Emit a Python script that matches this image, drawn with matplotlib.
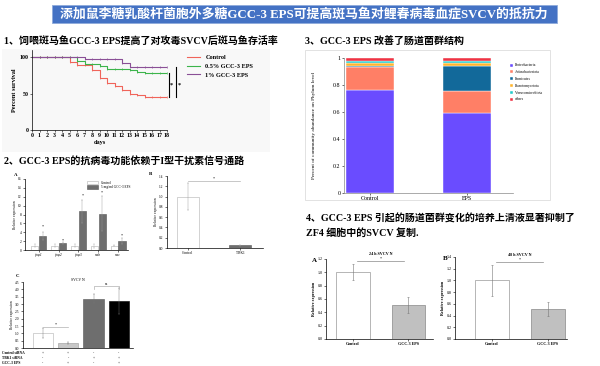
import numpy as np
import matplotlib.pyplot as plt
from matplotlib.patches import Rectangle

# ---- data ----
days = np.arange(0, 19)
surv_control = [100, 100, 100, 100, 100, 93, 90, 90, 82, 72, 65, 60, 55, 50, 48, 45, 45, 45, 46]
surv_low = [100, 100, 100, 100, 100, 100, 95, 91, 91, 88, 84, 84, 84, 82, 80, 78, 78, 78, 78]
surv_high = [100, 100, 100, 100, 100, 100, 100, 97, 97, 97, 97, 97, 92, 87, 87, 87, 87, 87, 87]
surv_labels = ["Control", "0.5% GCC-3 EPS", "1% GCC-3 EPS"]

genes = ["ifnφ1", "ifnφ2", "ifnφ3", "mxb", "mxc"]
gene_ctrl = [1.0, 1.0, 1.0, 1.0, 1.0]
gene_ctrl_err = [0.4, 0.25, 0.4, 0.45, 0.15]
gene_eps = [3.1, 1.6, 8.7, 8.2, 2.0]
gene_eps_err = [0.9, 0.3, 2.6, 4.0, 0.6]
gene_star = [5.2, 2.2, 12.3, 13.0, 3.2]

tbk_groups = ["Control", "TBK1"]
tbk_vals = [1.0, 0.05]
tbk_err = [0.27, 0.01]

sirna_vals = [1.0, 0.35, 3.35, 3.2]
sirna_err = [0.35, 0.05, 0.3, 0.9]
sirna_rows = ["Control siRNA", "TBK1 siRNA", "GCC-3 EPS"]
sirna_signs = [["+", "+", "-", "-"], ["-", "-", "+", "+"], ["-", "+", "-", "+"]]

phyla = ["Proteobacteria", "Actinobacteriota", "Firmicutes", "Planctomycetota", "Verrucomicrobiota", "others"]
phyla_groups = ["Control", "EPS"]
phyla_ctrl = [0.765, 0.165, 0.01, 0.02, 0.02, 0.02]
phyla_eps = [0.595, 0.16, 0.185, 0.025, 0.01, 0.025]

sup_groups = ["Control", "GCC-3 EPS"]
sup24 = [1.0, 0.51]
sup24_err = [0.12, 0.12]
sup48 = [1.0, 0.51]
sup48_err = [0.27, 0.12]

W, H = 600, 366
fig = plt.figure(figsize=(W / 100, H / 100), dpi=100)
plt.rcParams['font.family'] = ['Liberation Serif', 'Noto Sans CJK SC']
CJK = ['Liberation Serif', 'Noto Sans CJK SC']


def px_axes(x0, y0, x1, y1):
    return fig.add_axes([x0 / W, 1 - y1 / H, (x1 - x0) / W, (y1 - y0) / H])


def ftext(x, y, s, **kw):
    return fig.text(x / W, 1 - y / H, s, **kw)


def small_style(ax, fs=3):
    for s in ["top", "right"]:
        ax.spines[s].set_visible(False)
    for s in ["left", "bottom"]:
        ax.spines[s].set_linewidth(0.5)
    ax.tick_params(labelsize=fs, width=0.4, length=1.5, pad=1)


# ---- banner + headings ----
fig.patches.append(Rectangle((52 / W, 1 - 23 / H), 505 / W, 18 / H, transform=fig.transFigure,
                             facecolor="#4472c4", edgecolor="#8eaadb", lw=0.6))
ftext(304, 14, "添加鼠李糖乳酸杆菌胞外多糖GCC-3 EPS可提高斑马鱼对鲤春病毒血症SVCV的抵抗力",
      color="white", fontsize=9.3, fontweight="bold", ha="center", va="center", family=CJK)
ftext(4, 42, "1、饲喂斑马鱼GCC-3 EPS提高了对攻毒SVCV后斑马鱼存活率", fontsize=7.2, fontweight="bold",
      va="center", family=CJK)
ftext(4, 161, "2、GCC-3 EPS的抗病毒功能依赖于I型干扰素信号通路", fontsize=7.2, fontweight="bold",
      va="center", family=CJK)
ftext(305, 42, "3、GCC-3 EPS 改善了肠道菌群结构", fontsize=7.2, fontweight="bold", va="center", family=CJK)
ftext(306, 219, "4、GCC-3 EPS 引起的肠道菌群变化的培养上清液显著抑制了", fontsize=7.2, fontweight="bold",
      va="center", family=CJK)
ftext(306, 233, "ZF4 细胞中的SVCV 复制.", fontsize=7.2, fontweight="bold", va="center", family=CJK)

fig.patches.append(Rectangle((2 / W, 1 - 152 / H), 268 / W, 103 / H, transform=fig.transFigure,
                             facecolor="#f8f8f8", edgecolor="none", zorder=-5))
fig.patches.append(Rectangle((305 / W, 1 - 200 / H), 245 / W, 150 / H, transform=fig.transFigure,
                             facecolor="white", edgecolor="#dddddd", lw=0.6, zorder=-5))

# ---- 1: survival ----
ax1 = px_axes(32, 50, 167, 130)
ax1.patch.set_alpha(0)
cols = ["#f0645a", "#3cb44b", "#8a4f96"]
for vals, c, lab in zip([surv_control, surv_low, surv_high], cols, surv_labels):
    ax1.step(days, vals, where="post", color=c, lw=0.8, label=lab)
    ax1.plot(days[1:], vals[1:], ls="none", marker="|", ms=2, mew=0.5, color=c)
ax1.set_xlim(0, 18)
ax1.set_ylim(0, 110)
ax1.set_xticks(days)
ax1.set_yticks([0, 50, 100])
small_style(ax1, fs=4.3)
for lbl in ax1.get_xticklabels() + ax1.get_yticklabels():
    lbl.set_fontweight("bold")
ax1.set_xlabel("days", fontsize=4.5, fontweight="bold", labelpad=1)
ax1.set_ylabel("Percent survival", fontsize=4.5, fontweight="bold", labelpad=2)
ax1.plot([18.2, 18.2], [surv_low[-1], surv_control[-1]], color="black", lw=0.8, clip_on=False)
ax1.text(18.6, 62, "*", fontsize=4.5, ha="center", va="center", fontweight="bold")
ax1.plot([19.2, 19.2], [surv_high[-1], surv_control[-1]], color="black", lw=0.8, clip_on=False)
ax1.text(19.6, 62, "*", fontsize=4.5, ha="center", va="center", fontweight="bold")
ax1.legend(loc="upper left", bbox_to_anchor=(181 / W, 1 - 49 / H), bbox_transform=fig.transFigure,
           frameon=False, prop={"size": 4.5, "weight": "bold"}, handlelength=2.2, labelspacing=0.55)

# ---- 2A: gene expression ----
ax2a = px_axes(25, 179, 128, 250)
x = np.arange(len(genes))
ax2a.bar(x - 0.2, gene_ctrl, 0.36, color="white", edgecolor="#b0b0b0", lw=0.4, label="Control",
         yerr=gene_ctrl_err, error_kw=dict(lw=0.3, ecolor="#b0b0b0", capsize=0.8, capthick=0.3))
ax2a.bar(x + 0.2, gene_eps, 0.36, color="#6e6e6e", edgecolor="#555555", lw=0.4, label="5 mg/ml GCC-3 EPS",
         yerr=gene_eps_err, error_kw=dict(lw=0.3, ecolor="#999999", capsize=0.8, capthick=0.3))
for xi, s in zip(x, gene_star):
    ax2a.text(xi + 0.2, s, "*", fontsize=3, ha="center", va="center")
ax2a.set_xlim(-0.7, 4.5)
ax2a.set_ylim(0, 16)
ax2a.set_yticks(np.arange(0, 17, 2))
ax2a.set_xticks(x)
ax2a.set_xticklabels(genes, style="italic")
small_style(ax2a, fs=2.6)
ax2a.set_ylabel("Relative expression", fontsize=2.6, labelpad=1)
ax2a.legend(loc="upper right", bbox_to_anchor=(1.05, 1.02), frameon=False, fontsize=2.5,
            handlelength=3, handleheight=1.2, labelspacing=0.2)
ftext(14, 176, "A", fontsize=3.5, fontweight="bold")

# ---- 2B: TBK1 ----
ax2b = px_axes(167, 176, 263, 248)
xb = np.arange(len(tbk_groups))
ax2b.bar(xb, tbk_vals, 0.42, color=["white", "#6e6e6e"], edgecolor=["#b0b0b0", "#555555"], lw=0.4)
ax2b.errorbar(xb, tbk_vals, yerr=tbk_err, fmt="none", ecolor="#999999", elinewidth=0.3,
              capsize=0.8, capthick=0.3)
ax2b.plot([0, 1], [1.3, 1.3], color="#b0b0b0", lw=0.5)
ax2b.text(0.5, 1.32, "*", fontsize=3, ha="center", va="bottom")
ax2b.set_xlim(-0.4, 1.44)
ax2b.set_ylim(0, 1.4)
ax2b.set_yticks(np.arange(0, 1.41, 0.2))
ax2b.set_yticklabels([f"{v:.1f}" for v in np.arange(0, 1.41, 0.2)])
ax2b.set_xticks(xb)
ax2b.set_xticklabels(tbk_groups)
small_style(ax2b, fs=2.6)
ax2b.set_ylabel("Relative expression", fontsize=2.6, labelpad=1)
ftext(149, 175, "B", fontsize=3.5, fontweight="bold")

# ---- 2C: siRNA ----
ax2c = px_axes(23, 282, 133, 348)
xc = np.arange(len(sirna_vals))
ax2c.bar(xc, sirna_vals, 0.8, color=["white", "#c8c8c8", "#6e6e6e", "black"],
         edgecolor=["#b0b0b0", "#999999", "#555555", "black"], lw=0.4)
ax2c.errorbar(xc, sirna_vals, yerr=sirna_err, fmt="none", ecolor="#777777", elinewidth=0.3,
              capsize=0.8, capthick=0.3)
ax2c.plot([0, 1], [1.45, 1.45], color="#b0b0b0", lw=0.5)
ax2c.text(0.5, 1.5, "*", fontsize=3, ha="center", va="bottom")
ax2c.plot([2, 2, 3, 3], [4.05, 4.2, 4.2, 4.05], color="#b0b0b0", lw=0.5)
ax2c.text(2.5, 4.25, "ns", fontsize=2.6, ha="center", va="bottom")
ax2c.set_xlim(-0.79, 3.56)
ax2c.set_ylim(0, 4.5)
ax2c.set_yticks(np.arange(0, 4.51, 0.5))
ax2c.set_yticklabels([f"{v:.1f}" for v in np.arange(0, 4.51, 0.5)])
ax2c.set_xticks([])
small_style(ax2c, fs=2.6)
ax2c.set_ylabel("Relative expression", fontsize=2.6, labelpad=1)
ax2c.set_title("SVCV N", fontsize=2.8, pad=1)
for r, (row, signs) in enumerate(zip(sirna_rows, sirna_signs)):
    yrow = 353 + r * 5
    ftext(2, yrow, row, fontsize=2.6, va="center", fontweight="bold")
    for xi, s in zip(xc, signs):
        ax2c.text(xi, 1 - (yrow - 282) / 66, s, transform=ax2c.get_xaxis_transform(), fontsize=2.6,
                  ha="center", va="center", clip_on=False)
ftext(16, 277, "C", fontsize=3.5, fontweight="bold")

# ---- 3: phylum stacked bars ----
ax3 = px_axes(344, 58, 513, 193)
pcols = ["#6a4cff", "#ff7f66", "#12699a", "#ffb52e", "#22cccc", "#ee3344"]
xp = np.arange(len(phyla_groups))
bottom = np.zeros(2)
for name, c, a, b in zip(phyla, pcols, phyla_ctrl, phyla_eps):
    v = np.array([a, b])
    ax3.bar(xp, v, 0.495, bottom=bottom, color=c, edgecolor="white", lw=0.3, label=name)
    bottom += v
ax3.set_xlim(-0.268, 1.474)
ax3.set_ylim(0, 1)
ax3.set_yticks([0, 0.2, 0.4, 0.6, 0.8, 1])
ax3.set_yticklabels(["0", "0.2", "0.4", "0.6", "0.8", "1"])
ax3.set_xticks(xp)
ax3.set_xticklabels(phyla_groups)
small_style(ax3, fs=4.3)
for s in ["left", "bottom"]:
    ax3.spines[s].set_color("#888888")
ax3.set_ylabel("Percent of community abundance on Phylum level", fontsize=3.8, labelpad=12)
ax3.legend(loc="upper left", bbox_to_anchor=(507 / W, 1 - 60 / H), bbox_transform=fig.transFigure,
           frameon=False, fontsize=2.7, handlelength=0.8, handleheight=0.8, labelspacing=0.75,
           handletextpad=0.4)

# ---- 4: supernatant ----
for (x0, y0, x1, xl, vals, err, ymax, sig, title, letter, lx) in [
        (326, 259, 433, (-0.49, 1.45), sup24, sup24_err, 1.2, 1.17, "24 h SVCV N", "A", 312),
        (455, 257, 567, (-0.66, 1.34), sup48, sup48_err, 1.4, 1.31, "48 h SVCV N", "B", 443)]:
    ax = px_axes(x0, y0, x1, 339)
    xs = np.arange(len(sup_groups))
    ax.bar(xs, vals, 0.6, color=["white", "#c0c0c0"], edgecolor=["#999999", "#888888"], lw=0.5)
    ax.errorbar(xs, vals, yerr=err, fmt="none", ecolor="#777777", elinewidth=0.4, capsize=1,
                capthick=0.4)
    ax.plot([0.08, 0.92], [sig, sig], color="#888888", lw=0.5)
    ax.text(0.5, sig + ymax * 0.005, "*", fontsize=3, ha="center", va="bottom")
    ax.text(0.5, sig + ymax * 0.06, title, fontsize=3, ha="center", va="bottom", fontweight="bold")
    ax.set_xlim(*xl)
    ax.set_ylim(0, ymax)
    ticks = np.arange(0, ymax + 0.01, 0.2)
    ax.set_yticks(ticks)
    ax.set_yticklabels([f"{v:.1f}" for v in ticks])
    ax.set_xticks(xs)
    ax.set_xticklabels(sup_groups, fontweight="bold")
    small_style(ax, fs=3)
    ax.set_ylabel("Relative expression", fontsize=3, labelpad=1, fontweight="bold")
    ftext(lx, y0 + 2, letter, fontsize=5, fontweight="bold", va="center")

fig.savefig("out.png", dpi=100)
